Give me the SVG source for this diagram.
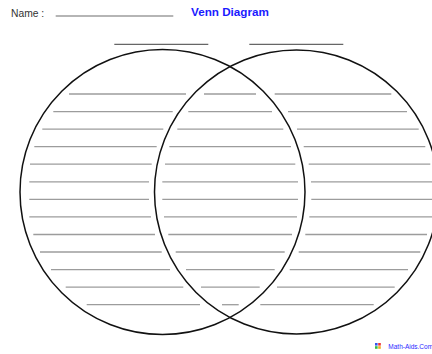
<svg xmlns="http://www.w3.org/2000/svg" width="432" height="354" viewBox="0 0 432 354">
<style>
.ln{stroke:#9c9c9c;stroke-width:1.3;fill:none}
.ttl{stroke:#666;stroke-width:1.3;fill:none}
.circ{fill:none;stroke:#111;stroke-width:1.5}
</style>
<rect width="432" height="354" fill="#fff"/>
<g id="header">
<text x="11" y="16.5" font-family="Liberation Sans, Arial, sans-serif" font-size="10.3" fill="#333">Name :</text>
<line class="ln" x1="55.7" y1="16" x2="173.3" y2="16"/>
<text x="191" y="15.5" font-family="Liberation Sans, Arial, sans-serif" font-size="11.7" font-weight="bold" fill="#1a1aff">Venn Diagram</text>
</g>
<g id="title-lines">
<line class="ttl" x1="114.3" y1="44.3" x2="208.3" y2="44.3"/>
<line class="ttl" x1="249.3" y1="44.3" x2="343.3" y2="44.3"/>
</g>
<g id="circle-left"><circle class="circ" cx="162.5" cy="192" r="142.5"/></g>
<g id="circle-right"><circle class="circ" cx="296.5" cy="192" r="142"/></g>
<g id="lines-left">
<line class="ln" x1="69" y1="94" x2="186" y2="94"/>
<line class="ln" x1="53.3" y1="111.6" x2="172.7" y2="111.6"/>
<line class="ln" x1="42.3" y1="129.1" x2="163.3" y2="129.1"/>
<line class="ln" x1="34.3" y1="146.7" x2="156.7" y2="146.7"/>
<line class="ln" x1="30" y1="164.2" x2="151.7" y2="164.2"/>
<line class="ln" x1="29.3" y1="181.8" x2="149" y2="181.8"/>
<line class="ln" x1="29.3" y1="199.4" x2="149" y2="199.4"/>
<line class="ln" x1="29.3" y1="216.9" x2="151" y2="216.9"/>
<line class="ln" x1="33.3" y1="234.5" x2="155" y2="234.5"/>
<line class="ln" x1="40" y1="252" x2="161.7" y2="252"/>
<line class="ln" x1="51" y1="269.6" x2="170" y2="269.6"/>
<line class="ln" x1="65.7" y1="287.1" x2="183.3" y2="287.1"/>
<line class="ln" x1="86.7" y1="304.7" x2="200" y2="304.7"/>
</g>
<g id="lines-middle">
<line class="ln" x1="204" y1="94" x2="256" y2="94"/>
<line class="ln" x1="188.3" y1="111.6" x2="272" y2="111.6"/>
<line class="ln" x1="177.3" y1="129.1" x2="283.3" y2="129.1"/>
<line class="ln" x1="169.3" y1="146.7" x2="291" y2="146.7"/>
<line class="ln" x1="165" y1="164.2" x2="295.3" y2="164.2"/>
<line class="ln" x1="162.3" y1="181.8" x2="298" y2="181.8"/>
<line class="ln" x1="162.3" y1="199.4" x2="298" y2="199.4"/>
<line class="ln" x1="164" y1="216.9" x2="297" y2="216.9"/>
<line class="ln" x1="168.3" y1="234.5" x2="292" y2="234.5"/>
<line class="ln" x1="175.7" y1="252" x2="284.7" y2="252"/>
<line class="ln" x1="186" y1="269.6" x2="274.7" y2="269.6"/>
<line class="ln" x1="201" y1="287.1" x2="259.7" y2="287.1"/>
<line class="ln" x1="222" y1="304.7" x2="238.7" y2="304.7"/>
</g>
<g id="lines-right">
<line class="ln" x1="274.7" y1="94" x2="391.3" y2="94"/>
<line class="ln" x1="288" y1="111.6" x2="407" y2="111.6"/>
<line class="ln" x1="297" y1="129.1" x2="418.7" y2="129.1"/>
<line class="ln" x1="303.7" y1="146.7" x2="425.3" y2="146.7"/>
<line class="ln" x1="308.7" y1="164.2" x2="430.3" y2="164.2"/>
<line class="ln" x1="311" y1="181.8" x2="433" y2="181.8"/>
<line class="ln" x1="311.3" y1="199.4" x2="433" y2="199.4"/>
<line class="ln" x1="309.3" y1="216.9" x2="433" y2="216.9"/>
<line class="ln" x1="305.3" y1="234.5" x2="427" y2="234.5"/>
<line class="ln" x1="298.7" y1="252" x2="420.3" y2="252"/>
<line class="ln" x1="289.7" y1="269.6" x2="408" y2="269.6"/>
<line class="ln" x1="277" y1="287.1" x2="394.7" y2="287.1"/>
<line class="ln" x1="260.3" y1="304.7" x2="373.7" y2="304.7"/>
</g>
<g id="logo">
<rect x="375" y="343" width="2.6" height="2.6" fill="#3355ee"/>
<rect x="378.2" y="343" width="2.6" height="2.6" fill="#ee3333"/>
<rect x="375" y="346.2" width="2.6" height="2.6" fill="#33bb44"/>
<rect x="378.2" y="346.2" width="2.6" height="2.6" fill="#f0b020"/>
<text x="388.3" y="349" font-family="Liberation Sans, Arial, sans-serif" font-size="6.5" fill="#2a2aff">Math-Aids.Com</text>
</g>
</svg>
